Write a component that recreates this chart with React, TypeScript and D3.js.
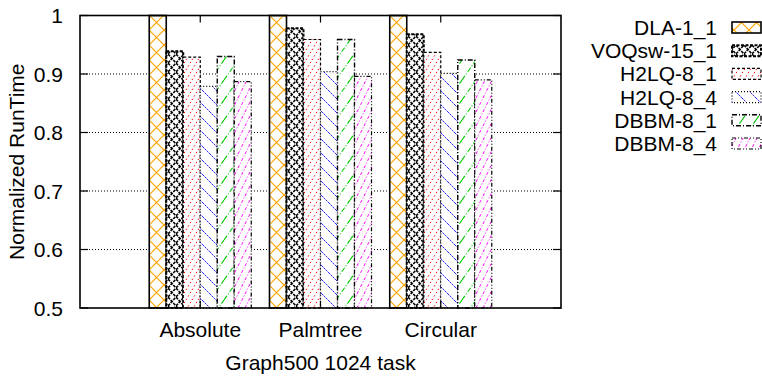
import React from "react";
import * as d3 from "d3";

const categories = ["Absolute", "Palmtree", "Circular"];
const seriesNames = ["DLA-1_1", "VOQsw-15_1", "H2LQ-8_1", "H2LQ-8_4", "DBBM-8_1", "DBBM-8_4"];
const dla = [1.0, 1.0, 1.0];
const voq = [0.939, 0.978, 0.968];
const h2lq81 = [0.929, 0.959, 0.937];
const h2lq84 = [0.879, 0.904, 0.901];
const dbbm81 = [0.93, 0.959, 0.924];
const dbbm84 = [0.887, 0.896, 0.89];
const seriesValues = [dla, voq, h2lq81, h2lq84, dbbm81, dbbm84];
const yTicks = [0.5, 0.6, 0.7, 0.8, 0.9, 1];
const yTickLabels = ["0.5", "0.6", "0.7", "0.8", "0.9", "1"];

const W = 762, H = 377;
const L = 80, R = 561, T = 15.5, B = 308;
const FONT = "'Liberation Sans', Arial, Helvetica, sans-serif";
const FS = 21;

const borderDash = ["", "3,1.5", "3,2", "1,2", "5,2,1,2", "4,2,1,2,1,2"];
const borderWidth = [1.6, 2, 1.2, 1.2, 1.4, 1.2];

function Patterns() {
  return (
    <defs>
      <pattern id="p0" patternUnits="userSpaceOnUse" width={15} height={15} x={149} y={0}>
        <rect width={15} height={15} fill="white" />
        <path d="M0,0L15,15M0,15L15,0" stroke="#ffa500" strokeWidth={1.2} />
      </pattern>
      <pattern id="p1" patternUnits="userSpaceOnUse" width={8} height={9}>
        <rect width={8} height={9} fill="white" />
        <path d="M0,0L8,9M0,9L8,0" stroke="#000" strokeWidth={1.6} strokeDasharray="3,1" />
      </pattern>
      <pattern id="p2" patternUnits="userSpaceOnUse" width={6} height={10}>
        <rect width={6} height={10} fill="white" />
        <path d="M0,10L6,0M-6,10L0,0M6,10L12,0" stroke="red" strokeWidth={1} strokeDasharray="1.5,2.5" />
      </pattern>
      <pattern id="p3" patternUnits="userSpaceOnUse" width={14} height={14}>
        <rect width={14} height={14} fill="white" />
        <path d="M0,0L14,14M-7,-7L7,7M7,7L21,21M-14,0L0,14M0,-14L14,0" stroke="blue" strokeWidth={0.8} strokeDasharray="1.5,1.5" />
      </pattern>
      <pattern id="p4" patternUnits="userSpaceOnUse" width={14} height={20}>
        <rect width={14} height={20} fill="white" />
        <path d="M0,20L14,0M-14,20L0,0M14,20L28,0" stroke="#00cc00" strokeWidth={1.1} strokeDasharray="5,2,1,2" />
      </pattern>
      <pattern id="p5" patternUnits="userSpaceOnUse" width={7} height={14}>
        <rect width={7} height={14} fill="white" />
        <path d="M0,14L7,0M-7,14L0,0M7,14L14,0" stroke="magenta" strokeWidth={1} strokeDasharray="3,2,1,2" />
      </pattern>
    </defs>
  );
}

export default function App() {
  const x = d3.scaleLinear().domain([-1, 3]).range([L, R]);
  const y = d3.scaleLinear().domain([0.5, 1]).range([B, T]);
  const bw = (x(1) - x(0)) * 0.1414;
  const nS = seriesNames.length;
  const legendRowY = (i: number) => 27.5 + i * 23.2;

  return (
    <svg width={W} height={H} style={{ position: "absolute", left: 0, top: 0, background: "white" }}>
      <Patterns />
      <rect width={W} height={H} fill="white" />
      {yTicks.slice(1, -1).map((t) => (
        <line key={"g" + t} x1={L} x2={R} y1={y(t)} y2={y(t)} stroke="#000" strokeWidth={1} strokeDasharray="1,2" />
      ))}
      {seriesValues.map((vals, si) =>
        vals.map((v, ci) => {
          const x0 = x(ci) + (si - nS / 2) * bw;
          return (
            <rect
              key={`b${si}-${ci}`}
              x={x0}
              y={y(v)}
              width={bw}
              height={B - y(v)}
              fill={`url(#p${si})`}
              stroke="#000"
              strokeWidth={borderWidth[si]}
              strokeDasharray={borderDash[si] || undefined}
            />
          );
        })
      )}
      {yTicks.map((t) => (
        <g key={"t" + t}>
          <line x1={L} x2={L + 8} y1={y(t)} y2={y(t)} stroke="#000" strokeWidth={1.2} />
          <line x1={R - 8} x2={R} y1={y(t)} y2={y(t)} stroke="#000" strokeWidth={1.2} />
        </g>
      ))}
      {categories.map((c, i) => (
        <g key={"xt" + c}>
          <line x1={x(i)} x2={x(i)} y1={T} y2={T + 7} stroke="#000" strokeWidth={1.2} />
          <line x1={x(i)} x2={x(i)} y1={B} y2={B - 7} stroke="#000" strokeWidth={1.2} />
        </g>
      ))}
      <rect x={L} y={T} width={R - L} height={B - T} fill="none" stroke="#000" strokeWidth={1.6} />
      {yTicks.map((t, i) => (
        <text key={"yl" + t} x={63} y={y(t)} dy="0.36em" textAnchor="end" fontFamily={FONT} fontSize={FS}>
          {yTickLabels[i]}
        </text>
      ))}
      {categories.map((c, i) => (
        <text key={"xl" + c} x={x(i)} y={337} textAnchor="middle" fontFamily={FONT} fontSize={FS}>
          {c}
        </text>
      ))}
      <text x={(L + R) / 2} y={370} textAnchor="middle" fontFamily={FONT} fontSize={FS}>
        Graph500 1024 task
      </text>
      <text transform={`translate(24,${(T + B) / 2}) rotate(-90)`} textAnchor="middle" fontFamily={FONT} fontSize={FS}>
        Normalized RunTime
      </text>
      {seriesNames.map((n, i) => (
        <g key={"lg" + n}>
          <text x={717} y={legendRowY(i)} dy="0.36em" textAnchor="end" fontFamily={FONT} fontSize={FS}>
            {n}
          </text>
          <rect
            x={732}
            y={legendRowY(i) - 5.5}
            width={29}
            height={11}
            fill={`url(#p${i})`}
            stroke="#000"
            strokeWidth={borderWidth[i]}
            strokeDasharray={borderDash[i] || undefined}
          />
        </g>
      ))}
    </svg>
  );
}
